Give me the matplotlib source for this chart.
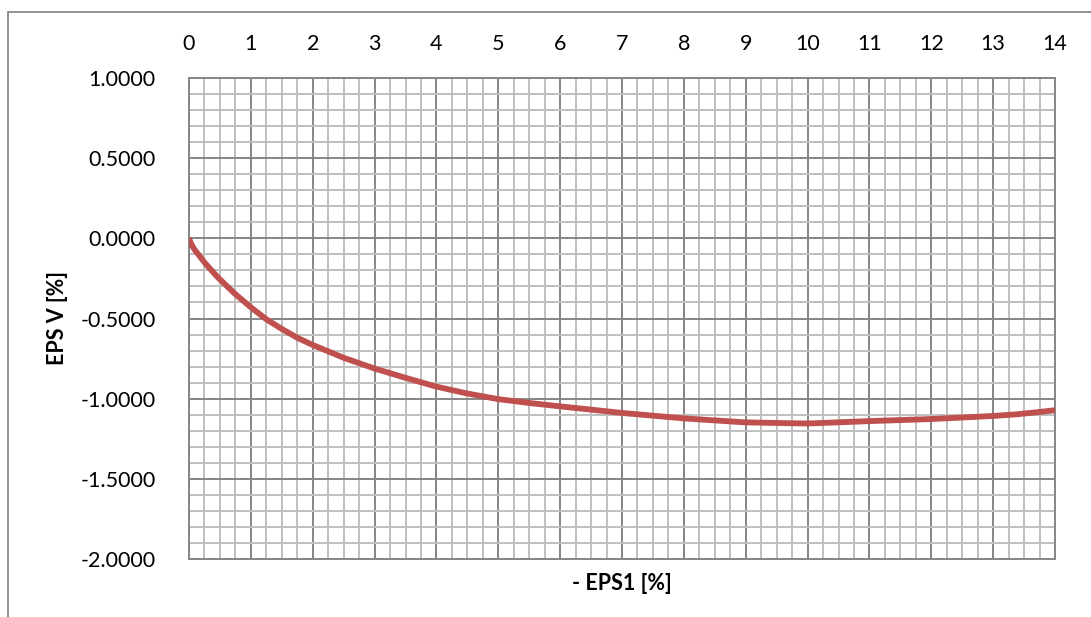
import matplotlib
matplotlib.use("Agg")
import matplotlib.pyplot as plt
from matplotlib.patches import Rectangle
from matplotlib.ticker import MultipleLocator, FormatStrFormatter

# Curve
eps1 = [0.0, 0.03, 0.08, 0.15, 0.26, 0.47, 0.74, 1.0, 1.25, 1.5, 1.75, 2.0,
        2.5, 3.0, 3.5, 4.0, 4.5, 5.0, 5.5, 6.0, 7.0, 8.0, 9.0, 10.0, 11.0,
        12.0, 13.0, 13.4, 13.75, 14.0]
eps_v = [0.0, -0.03, -0.065, -0.10, -0.155, -0.245, -0.345, -0.43, -0.505,
         -0.565, -0.62, -0.665, -0.745, -0.812, -0.87, -0.925, -0.968,
         -1.003, -1.027, -1.048, -1.089, -1.123, -1.148, -1.155, -1.14,
         -1.127, -1.108, -1.097, -1.083, -1.072]

x_label = "- EPS1 [%]"
y_label = "EPS V [%]"

plt.rcParams["font.family"] = ["Lato", "DejaVu Sans"]

fig = plt.figure(figsize=(10.91, 6.17), dpi=100)
ax = fig.add_axes([189 / 1091, 1 - 559 / 617, 866 / 1091, 481 / 617])

ax.plot(eps1, eps_v, color="#C0504D", linewidth=4.2, solid_joinstyle="round",
        solid_capstyle="butt", zorder=3)

ax.set_xlim(0, 14)
ax.set_ylim(-2, 1)
ax.xaxis.set_major_locator(MultipleLocator(1))
ax.xaxis.set_minor_locator(MultipleLocator(0.25))
ax.yaxis.set_major_locator(MultipleLocator(0.5))
ax.yaxis.set_minor_locator(MultipleLocator(0.1))
ax.yaxis.set_major_formatter(FormatStrFormatter("%.4f"))

ax.grid(which="minor", color="#BFBFBF", linewidth=1.4)
ax.grid(which="major", color="#868686", linewidth=1.4)
ax.set_axisbelow(True)

ax.xaxis.tick_top()
ax.tick_params(which="both", length=0)
ax.tick_params(axis="x", labelsize=15.5, pad=17)
ax.tick_params(axis="y", labelsize=15.5, pad=24)

for s in ax.spines.values():
    s.set_color("#868686")
    s.set_linewidth(1.4)

fig.text(622 / 1091, 1 - 583 / 617, x_label, ha="center", va="center",
         fontsize=15.5, fontweight="bold")
fig.text(58 / 1091, 1 - 318 / 617, y_label, ha="center", va="center",
         rotation=90, fontsize=15.5, fontweight="bold")

# chart border (cut off at right and bottom)
fig.add_artist(Rectangle((8 / 1091, -0.1), 1.1, 1.1 - 12 / 617,
                         transform=fig.transFigure, fill=False,
                         edgecolor="#898989", linewidth=1.3))

fig.savefig("out.png", dpi=100)
